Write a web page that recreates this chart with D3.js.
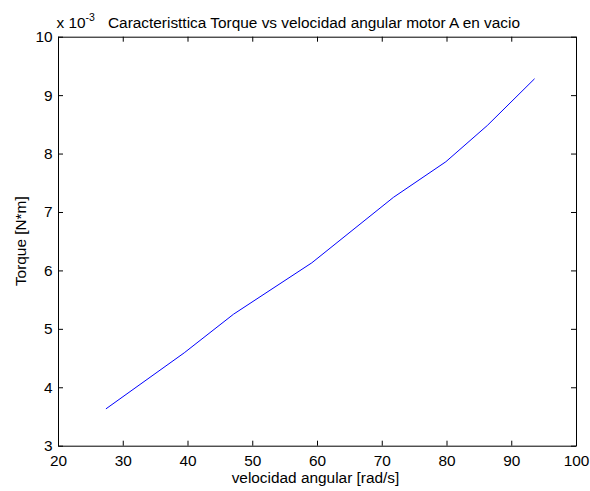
<!DOCTYPE html>
<html><head><meta charset="utf-8">
<script src="https://cdn.jsdelivr.net/npm/d3@7"></script>
<style>
body{margin:0;background:#fff;}
text{font-family:"Liberation Sans",Arial,sans-serif;fill:#000;}
</style></head>
<body>
<svg id="c" width="590" height="491"></svg>
<script>
const speed = [27.4, 39.5, 47.1, 59.2, 71.8, 79.9, 86.3, 93.6];
const torque = [3.63e-3, 4.59e-3, 5.25e-3, 6.13e-3, 7.25e-3, 7.86e-3, 8.48e-3, 9.28e-3];
const xTicks = [20, 30, 40, 50, 60, 70, 80, 90, 100];
const yTicks = [3, 4, 5, 6, 7, 8, 9, 10];
const title = "Caracteristtica Torque vs velocidad angular motor A en vacio";
const xLabel = "velocidad angular [rad/s]";
const yLabel = "Torque [N*m]";

const W = 590, H = 491;
const m = {left: 58, right: 576, top: 36.7, bottom: 445.7};
const svg = d3.select("#c");
svg.append("rect").attr("width", W).attr("height", H).attr("fill", "#fff");

const x = d3.scaleLinear().domain([20, 100]).range([m.left, m.right]);
const y = d3.scaleLinear().domain([3e-3, 10e-3]).range([m.bottom, m.top]);

const fs = 15.4;
// axes
const gx = svg.append("g").attr("transform", `translate(0,${m.bottom})`)
  .call(d3.axisBottom(x).tickValues(xTicks).tickSizeInner(-5).tickSizeOuter(0).tickPadding(9).tickFormat(d3.format("d")));
const gxt = svg.append("g").attr("transform", `translate(0,${m.top})`)
  .call(d3.axisTop(x).tickValues(xTicks).tickSizeInner(-5).tickSizeOuter(0).tickFormat(""));
const gy = svg.append("g").attr("transform", `translate(${m.left},0)`)
  .call(d3.axisLeft(y).tickValues(yTicks.map(v => v * 1e-3)).tickSizeInner(-5).tickSizeOuter(0).tickPadding(5.5).tickFormat(d => Math.round(d * 1000)));
const gyr = svg.append("g").attr("transform", `translate(${m.right},0)`)
  .call(d3.axisRight(y).tickValues(yTicks.map(v => v * 1e-3)).tickSizeInner(-5).tickSizeOuter(0).tickFormat(""));
[gx, gxt, gy, gyr].forEach(g => {
  g.selectAll("path.domain").attr("stroke", "#000").attr("stroke-width", 1);
  g.selectAll("line").attr("stroke", "#000");
  g.selectAll("text").attr("font-size", fs).attr("font-family", '"Liberation Sans",Arial,sans-serif').attr("fill", "#000");
});

// line
const line = d3.line().x((d, i) => x(speed[i])).y((d, i) => y(torque[i]));
svg.append("path").datum(torque).attr("d", line)
  .attr("fill", "none").attr("stroke", "#0000ff").attr("stroke-width", 1);

// exponent
const ex = svg.append("text").attr("x", 56.5).attr("y", 28).attr("font-size", fs);
ex.append("tspan").text("x 10");
ex.append("tspan").attr("dy", -7).attr("font-size", 10.5).text("-3");

svg.append("text").attr("x", 314).attr("y", 28).attr("text-anchor", "middle")
  .attr("font-size", fs).text(title);
svg.append("text").attr("x", 315.5).attr("y", 482.5).attr("text-anchor", "middle")
  .attr("font-size", fs).text(xLabel);
svg.append("text").attr("transform", `translate(25.5,${(m.top + m.bottom) / 2}) rotate(-90)`)
  .attr("text-anchor", "middle").attr("font-size", fs).text(yLabel);
</script>
</body></html>
